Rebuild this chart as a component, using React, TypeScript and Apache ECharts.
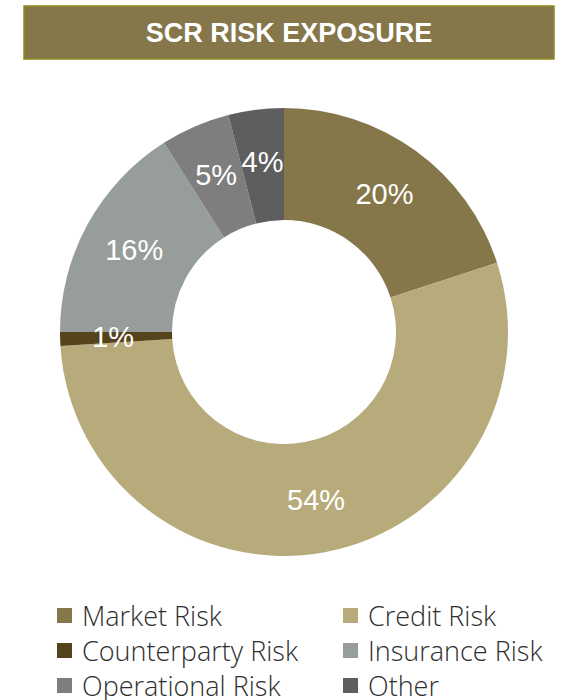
import React, { useEffect, useRef } from "react";
import * as echarts from "echarts";

const titleText = "SCR RISK EXPOSURE";
const categories = ["Market Risk", "Credit Risk", "Counterparty Risk", "Insurance Risk", "Operational Risk", "Other"];
const values = [20, 54, 1, 16, 5, 4];
const colors = ["#857749", "#B8AB7B", "#55431B", "#979D9A", "#7E7E7E", "#5E5E5E"];
const leftLegend = ["Market Risk", "Counterparty Risk", "Operational Risk"];
const rightLegend = ["Credit Risk", "Insurance Risk", "Other"];

export default function App() {
  const ref = useRef<HTMLDivElement>(null);
  useEffect(() => {
    if (!ref.current) return;
    const chart = echarts.init(ref.current, null, { renderer: "svg" });
    const legendText = {
      fontFamily: "Open Sans",
      fontSize: 27,
      fontWeight: 300,
      color: "#2e2e2e",
      lineHeight: 26,
      padding: [0, 0, 0, 5],
    };
    const legendBase = {
      orient: "vertical",
      top: 602,
      height: 160,
      padding: 0,
      itemWidth: 15,
      itemHeight: 15,
      itemGap: 8,
      icon: "rect",
      textStyle: legendText,
      selectedMode: false,
    };
    chart.setOption({
      animation: false,
      backgroundColor: "#ffffff",
      graphic: [
        {
          type: "rect",
          shape: { x: 24, y: 6, width: 530, height: 53 },
          style: { fill: "#857749", stroke: "#8E8C1E", lineWidth: 1.5 },
        },
        {
          type: "text",
          x: 289,
          y: 33,
          style: {
            text: titleText,
            fill: "#ffffff",
            font: "bold 27px 'Liberation Sans', Arial, sans-serif",
            textAlign: "center",
            textVerticalAlign: "middle",
          },
        },
      ],
      legend: [
        { ...legendBase, left: 57, data: leftLegend },
        { ...legendBase, left: 343, data: rightLegend },
      ],
      series: [
        {
          type: "pie",
          center: [284, 332],
          radius: [112, 224],
          startAngle: 90,
          clockwise: true,
          avoidLabelOverlap: false,
          emphasis: { disabled: true },
          itemStyle: { borderWidth: 0 },
          label: {
            show: true,
            position: "inside",
            formatter: "{c}%",
            color: "#ffffff",
            fontSize: 29,
            fontFamily: "'Liberation Sans', Arial, sans-serif",
          },
          labelLine: { show: false },
          data: categories.map((name, i) => ({
            name,
            value: values[i],
            itemStyle: { color: colors[i] },
          })),
        },
      ],
    });
    return () => chart.dispose();
  }, []);
  return (
    <div
      ref={ref}
      style={{ position: "absolute", left: 0, top: 0, width: 562, height: 700 }}
    />
  );
}
